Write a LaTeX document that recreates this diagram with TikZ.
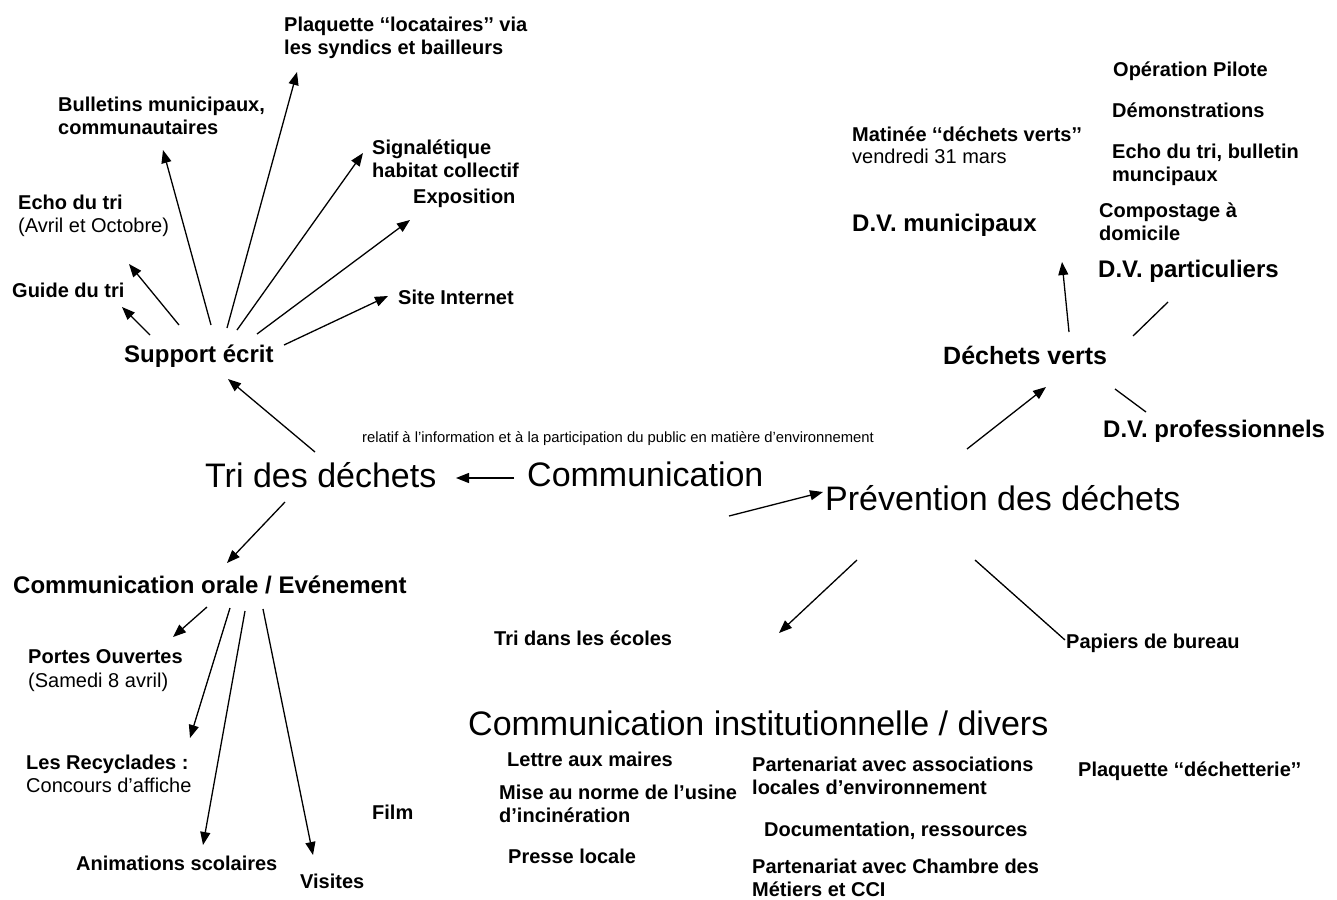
\documentclass[tikz,border=0pt]{standalone}
\usepackage{fontspec}
\setmainfont{Liberation Sans}
\usetikzlibrary{arrows.meta}
\begin{document}
\begin{tikzpicture}[x=1pt,y=-1pt,
  lbl/.style={font=\fontsize{20}{23}\selectfont\bfseries, inner sep=0pt, anchor=base west, align=left},
  lblr/.style={font=\fontsize{20}{23}\selectfont, inner sep=0pt, anchor=base west},
  mid/.style={font=\fontsize{24}{28}\selectfont\bfseries, inner sep=0pt, anchor=base west},
  big/.style={font=\fontsize{34}{40}\selectfont, inner sep=0pt, anchor=base west},
  tiny/.style={font=\fontsize{14.8}{17}\selectfont, inner sep=0pt, anchor=base west},
  arr/.style={line width=1.3pt, -{Triangle[length=13pt,width=10pt]}},
  ln/.style={line width=1.3pt}]
\useasboundingbox[fill=white] (0,0) rectangle (1337,899);

% ---- top left (two-line nodes: anchor is the last line's baseline)
\node[lbl] (plaq) at (284,55) {Plaquette ‘‘locataires’’ via\\les syndics et bailleurs};
\node[lbl] (bull) at (58,134) {Bulletins municipaux,\\communautaires};
\node[lbl] (sign) at (372,177) {Signalétique\\habitat collectif};
\node[lbl] (echo) at (18,209) {Echo du tri};
\node[lblr] (echod) at (18,232) {(Avril et Octobre)};
\node[lbl] (expo) at (413,203) {Exposition};
\node[lbl] (guide) at (12,297) {Guide du tri};
\node[lbl] (site) at (398,304) {Site Internet};
\node[mid] (support) at (124,362) {Support écrit};

\coordinate (sGt) at (150,335); \coordinate (sGh) at (122,307);
\coordinate (sEt) at (179,325); \coordinate (sEh) at (129,264);
\coordinate (sBt) at (211,325); \coordinate (sBh) at (163,150);
\coordinate (sPt) at (227,328); \coordinate (sPh) at (297,72);
\coordinate (sSt) at (237,330); \coordinate (sSh) at (363,153);
\coordinate (sXt) at (257,334); \coordinate (sXh) at (410,220);
\coordinate (sIt) at (284,345); \coordinate (sIh) at (388,296);
\draw[arr] (sGt) -- (sGh);
\draw[arr] (sEt) -- (sEh);
\draw[arr] (sBt) -- (sBh);
\draw[arr] (sPt) -- (sPh);
\draw[arr] (sSt) -- (sSh);
\draw[arr] (sXt) -- (sXh);
\draw[arr] (sIt) -- (sIh);

% ---- centre
\node[tiny] (rel) at (362,442) {relatif à l'information et à la participation du public en matière d'environnement};
\node[big] (tri) at (205,487) {Tri des déchets};
\node[big] (comm) at (527,486) {Communication};
\node[big] (prev) at (825,510) {Prévention des déchets};

\coordinate (cTt) at (514,478); \coordinate (cTh) at (456,478);
\coordinate (cPt) at (729,516); \coordinate (cPh) at (823,492);
\coordinate (tSt) at (315,452); \coordinate (tSh) at (228,379);
\coordinate (tOt) at (285,502); \coordinate (tOh) at (227,563);
\draw[arr] (cTt) -- (cTh);
\draw[arr] (cPt) -- (cPh);
\draw[arr] (tSt) -- (tSh);
\draw[arr] (tOt) -- (tOh);

% ---- top right
\node[lbl] (oper) at (1113,76) {Opération Pilote};
\node[lbl] (demo) at (1112,117) {Démonstrations};
\node[lbl] (echo2) at (1112,181) {Echo du tri, bulletin\\muncipaux};
\node[lbl] (mat) at (852,141) {Matinée ‘‘déchets verts’’};
\node[lblr] (matd) at (852,163) {vendredi 31 mars};
\node[mid] (dvm) at (852,231) {D.V. municipaux};
\node[lbl] (comp) at (1099,240) {Compostage à\\domicile};
\node[mid] (dvp) at (1098,277) {D.V. particuliers};
\node[mid, font=\fontsize{25}{29}\selectfont\bfseries] (dv) at (943,364) {Déchets verts};
\node[mid] (dvpro) at (1103,437) {D.V. professionnels};

\coordinate (dMt) at (1069,332); \coordinate (dMh) at (1062,262);
\coordinate (dPt) at (1133,336); \coordinate (dPh) at (1168,302);
\coordinate (dRt) at (1115,389); \coordinate (dRh) at (1146,412);
\coordinate (pDt) at (967,449); \coordinate (pDh) at (1046,387);
\draw[arr] (dMt) -- (dMh);
\draw[ln] (dPt) -- (dPh);
\draw[ln] (dRt) -- (dRh);
\draw[arr] (pDt) -- (pDh);

% ---- bottom left
\node[mid] (orale) at (13,593) {Communication orale / Evénement};
\node[lbl] (portes) at (28,663) {Portes Ouvertes};
\node[lblr] (portesd) at (28,687) {(Samedi 8 avril)};
\node[lbl] (recy) at (26,769) {Les Recyclades :};
\node[lblr] (recyd) at (26,792) {Concours d’affiche};
\node[lbl] (anim) at (76,870) {Animations scolaires};
\node[lbl] (vis) at (300,888) {Visites};
\node[lbl] (film) at (372,819) {Film};

\coordinate (oPt) at (207,607); \coordinate (oPh) at (173,637);
\coordinate (oRt) at (230,608); \coordinate (oRh) at (190,738);
\coordinate (oAt) at (245,611); \coordinate (oAh) at (203,845);
\coordinate (oVt) at (263,609); \coordinate (oVh) at (313,855);
\draw[arr] (oPt) -- (oPh);
\draw[arr] (oRt) -- (oRh);
\draw[arr] (oAt) -- (oAh);
\draw[arr] (oVt) -- (oVh);

% ---- bottom middle / right
\node[lbl] (ecoles) at (494,645) {Tri dans les écoles};
\node[lbl] (papiers) at (1066,648) {Papiers de bureau};
\coordinate (pEt) at (857,560); \coordinate (pEh) at (779,633);
\coordinate (pBt) at (975,560); \coordinate (pBh) at (1065,640);
\draw[arr] (pEt) -- (pEh);
\draw[ln] (pBt) -- (pBh);

\node[big] (inst) at (468,735) {Communication institutionnelle / divers};
\node[lbl] (lettre) at (507,766) {Lettre aux maires};
\node[lbl] (mise) at (499,822) {Mise au norme de l’usine\\d'incinération};
\node[lbl] (presse) at (508,863) {Presse locale};
\node[lbl] (part1) at (752,794) {Partenariat avec associations\\locales d’environnement};
\node[lbl] (doc) at (764,836) {Documentation, ressources};
\node[lbl] (part2) at (752,896) {Partenariat avec Chambre des\\Métiers et CCI};
\node[lbl] (plaqd) at (1078,776) {Plaquette ‘‘déchetterie’’};
\end{tikzpicture}
\end{document}
